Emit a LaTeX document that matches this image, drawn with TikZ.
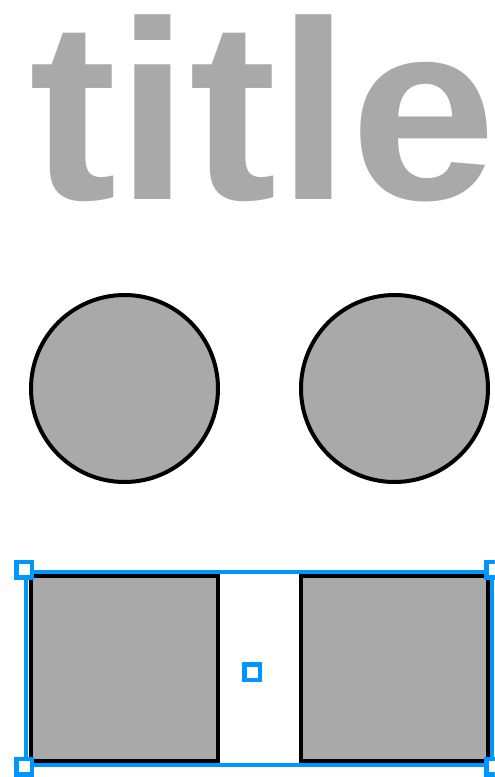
\documentclass[tikz,border=0pt]{standalone}
\usepackage{fontspec}
\setmainfont{Liberation Sans}
\usepackage{xcolor}
\usetikzlibrary{positioning,fit}
\definecolor{blobgray}{HTML}{A9A9A9}
\definecolor{selblue}{HTML}{0096FF}

\begin{document}
\begin{tikzpicture}[
        x=1pt, y=-1pt,
        circ/.style={
          circle,
          draw,
          fill=blobgray,
          line width=4pt,
          minimum size=187pt,
          inner sep=0pt
        },
        sq/.style={
          rectangle,
          draw,
          fill=blobgray,
          line width=4pt,
          minimum width=187pt,
          minimum height=185pt,
          inner sep=0pt
        },
        handle/.style={
          rectangle,
          draw=selblue,
          fill=white,
          line width=4.5pt,
          minimum size=15.5pt,
          inner sep=0pt
        }
      ]
      \useasboundingbox (0,0) rectangle (495,777);

      \node[font=\bfseries\fontsize{255}{255}\selectfont, text=blobgray,
            anchor=base west, inner sep=0pt, xscale=1.03] (title) at (29,199) {title};

      \node[circ] (circleA) at (124.5,388.5) {};
      \node[circ] (circleB) at (394.5,388.5) {};

      \node[sq] (boxA) at (124.7,668.3) {};
      \node[sq] (boxB) at (394.3,668.3) {};

      % selection frame round both boxes
      \node[draw=selblue, line width=4pt, inner sep=0pt,
            minimum width=466pt, minimum height=193.3pt] (sel) at (259,668.3) {};

      \node[handle] (hNW) at (sel.north west) {};
      \node[handle] (hNE) at (sel.north east) {};
      \node[handle] (hSW) at (sel.south west) {};
      \node[handle] (hSE) at (sel.south east) {};
      \node[handle] (hC) at (252,672) {};

      \end{tikzpicture}
\end{document}
